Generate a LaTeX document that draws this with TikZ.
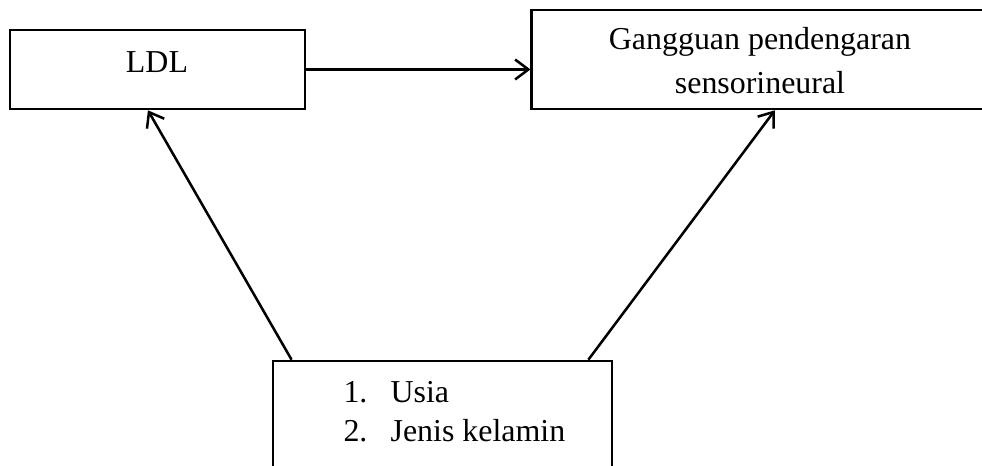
\documentclass[tikz,border=0pt]{standalone}
\usepackage{fontspec}
\setmainfont{Liberation Serif}
\usetikzlibrary{arrows.meta}

\tikzset{
  box/.style = {draw, line width=1pt, inner sep=0pt},
  conn/.style = {line width=0.95pt, -{Straight Barb[length=5pt,width=7.5pt]}}
}

\begin{document}
\begin{tikzpicture}[x=0.376pt, y=-0.376pt, font=\fontsize{12pt}{14pt}\selectfont]
  \clip (0,0) rectangle (982,466);

  \node[box, minimum width=110.9pt, minimum height=29.7pt] (ldl) at (157.5,69.5) {};
  \node[box, minimum width=171.6pt, minimum height=37.2pt] (ggn) at (760,59.5) {};
  \node[box, minimum width=127.5pt, minimum height=44.7pt] (fkt) at (442.5,420.5) {};

  \node[anchor=base] (ldltext) at (157,73) {LDL};
  \node[anchor=base] (ggntext1) at (760,50) {Gangguan pendengaran};
  \node[anchor=base] (ggntext2) at (760,94) {sensorineural};
  \node[anchor=base west, inner sep=0pt] (item1) at (343,403) {\makebox[17.7pt][l]{1.}Usia};
  \node[anchor=base west, inner sep=0pt] (item2) at (343,442) {\makebox[17.7pt][l]{2.}Jenis kelamin};

  \draw[conn] (ldl.east) -- (ldl.east -| ggn.west);
  \draw[conn] ([xshift=7.5pt]fkt.north west) -- ([xshift=-3.6pt]ldl.south);
  \draw[conn] ([xshift=-9.4pt]fkt.north east) -- ([xshift=5.6pt]ggn.south);
\end{tikzpicture}
\end{document}
